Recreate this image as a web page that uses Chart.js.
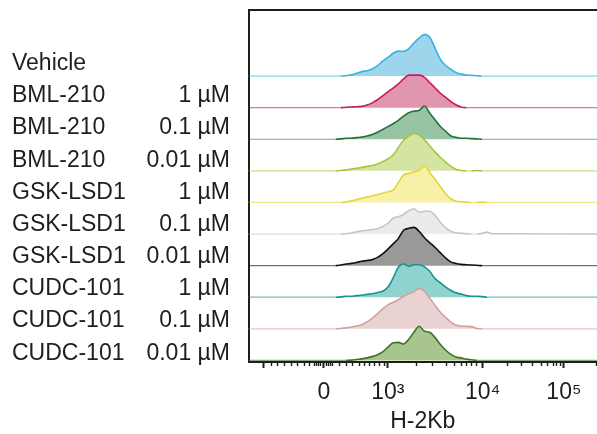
<!DOCTYPE html>
<html><head><meta charset="utf-8">
<script src="https://cdn.jsdelivr.net/npm/chart.js@4/dist/chart.umd.min.js"></script>
<style>html,body{margin:0;padding:0;background:#fff;overflow:hidden}canvas{display:block}</style>
</head><body>
<canvas id="c" width="597" height="434"></canvas>
<script>
// ---- data ----
const sampleNames = ['Vehicle','BML-210','BML-210','BML-210','GSK-LSD1','GSK-LSD1','GSK-LSD1','CUDC-101','CUDC-101','CUDC-101'];
const doses = ['','1 µM','0.1 µM','0.01 µM','1 µM','0.1 µM','0.01 µM','1 µM','0.1 µM','0.01 µM'];

// display channel (biexponential scale, 0-1000)
const xChannels = [0,250,265,280,295,310,325,340,355,370,385,400,415,430,445,460,475,490,505,520,535,550,565,580,595,610,625,640,655,670,685,700,1000];

// histogram heights (100 = one ridge spacing)
const vehicle   = [0,0,0,1,4,9,14,17,22,33,47,59,72,79,78,87,105,121,132,123,89,54,34,22,11,6,3,2,1,0,0,0,0];
const bml1      = [0,0,0,1,2,3,4,8,15,25,37,50,62,75,91,103,103,103,96,79,63,46,33,20,9,2,0,0,0,0,0,0,0];
const bml01     = [0,0,1,3,3,5,7,10,15,22,31,40,49,60,73,84,89,92,105,82,62,41,26,11,6,3,3,2,1,0,0,0,0];
const bml001    = [0,0,1,3,6,8,11,14,17,22,29,38,50,74,97,109,119,113,98,79,60,43,28,15,5,1,0,0,1,0,0,0,0];
const gsk1      = [0,0,0,1,5,9,13,17,21,25,29,34,39,63,87,92,97,102,116,95,73,51,29,12,4,2,1,0,0,1,0,0,0];
const gsk01     = [0,0,0,1,3,7,10,12,14,17,24,34,50,55,62,74,80,69,72,72,59,38,20,9,4,2,1,0,0,2,6,1,0];
const gsk001    = [0,0,2,5,7,10,14,16,19,26,37,52,69,86,112,118,121,108,88,73,58,41,25,12,7,4,3,2,1,0,0,0,0];
const cudc1     = [0,0,1,3,3,5,6,9,11,15,19,32,61,95,105,98,103,103,96,82,59,46,33,22,14,10,5,3,3,2,0,0,0];
const cudc01    = [0,0,1,3,6,9,13,22,33,48,63,76,84,92,103,111,117,128,119,97,75,53,37,22,12,9,8,7,1,0,0,0,0];
const cudc001   = [0,0,0,0,1,3,5,8,12,18,27,42,56,57,52,67,90,108,92,89,73,51,33,20,11,8,4,2,0,0,0,0,0];
const seriesValues = [vehicle,bml1,bml01,bml001,gsk1,gsk01,gsk001,cudc1,cudc01,cudc001];

// axis ticks (display channel) and their labels
const tickChannels = [43,65,83,103,123,141,161,175,190,195,201,207,216,224,230,236,241,262,281,299,319,333,348,362,376,391,400,481,529,568,592,611,626,640,654,672,744,784,816,841,859,874,885,896,905,999];
const tickLabels   = ['','','','','','','','','','','','','0','','','','','','','','','','','','','','10³','','','','','','','','','10⁴','','','','','','','','','10⁵',''];
const majorTicks   = [43,216,400,672,905];

// ---- styles ----
const lineColors = ['#33b4e2','#c71d59','#22703b','#a4c83a','#e4d63a','#c6c6c6','#111111','#16958f','#d4a0a0','#3b7323'];
const fillColors = ['#9dd6ec','#e196ae','#99c4a4','#d3e4a3','#f6f1a6','#ebebeb','#999999','#8fd2ce','#ead2d2','#a9c58f'];
const FONT = "'Liberation Sans', Arial, sans-serif";
const TXT = '#1e1e1e';
const ROW = 100, LIFT = 5, YMAX = 1114;
const n = sampleNames.length;

const datasets = seriesValues.map((vals, i) => {
  const base = (n - 1 - i) * ROW + LIFT;
  return {
    data: vals.map((v, k) => ({x: xChannels[k], y: base + v})),
    borderColor: lineColors[i],
    backgroundColor: fillColors[i],
    fill: {value: base},
    borderWidth: 1.6,
    pointRadius: 0,
    cubicInterpolationMode: 'monotone',
    order: n - 1 - i,
    segment: {
      borderColor: ctx => (ctx.p0.parsed.y === base && ctx.p1.parsed.y === base) ? lineColors[i] + '99' : undefined,
      borderWidth: ctx => (ctx.p0.parsed.y === base && ctx.p1.parsed.y === base) ? 1.2 : undefined
    }
  };
});

const labelTop = 944, labelStep = 101.8;
const labelTicks = s => { s.ticks = sampleNames.map((_, i) => ({value: labelTop - i * labelStep})); };
const noPad = s => { s.paddingTop = 0; s.paddingBottom = 0; s.paddingLeft = 0; s.paddingRight = 0; };

new Chart(document.getElementById('c'), {
  type: 'line',
  data: {datasets},
  options: {
    responsive: false,
    animation: false,
    events: [],
    layout: {padding: {left: 12, top: 10, right: 0, bottom: 0}},
    plugins: {legend: {display: false}, tooltip: {enabled: false}},
    scales: {
      x: {
        type: 'linear', position: 'bottom', min: 0, max: 1000,
        afterBuildTicks: s => { s.ticks = tickChannels.map(v => ({value: v})); },
        afterFit: s => { s.height = 72; noPad(s); },
        ticks: {
          autoSkip: false, maxRotation: 0, minRotation: 0, padding: 11, color: TXT,
          font: {family: FONT, size: 23},
          callback: (v, idx) => tickLabels[idx]
        },
        grid: {
          display: true, drawOnChartArea: false, drawTicks: true, tickLength: 6,
          tickColor: '#1e1e1e',
          tickWidth: ctx => majorTicks.includes(ctx.tick && ctx.tick.value) ? 2 : 1.4,
          tickBorderDash: ctx => majorTicks.includes(ctx.tick && ctx.tick.value) ? [] : [3, 20]
        },
        border: {display: true, color: '#1e1e1e', width: 2},
        title: {display: true, text: 'H-2Kb', color: TXT, font: {family: FONT, size: 23, lineHeight: 1.1}, padding: 0}
      },
      xTop: {
        type: 'linear', position: 'top', min: 0, max: 1000,
        afterFit: s => { s.height = 0; noPad(s); },
        ticks: {display: false},
        grid: {display: false, drawTicks: false},
        border: {display: true, color: '#1e1e1e', width: 2}
      },
      y: {type: 'linear', min: 0, max: YMAX, display: false},
      yDose: {
        type: 'linear', position: 'left', weight: 1, min: 0, max: YMAX,
        afterBuildTicks: labelTicks,
        afterFit: s => { s.width = 111.5; noPad(s); },
        ticks: {autoSkip: false, crossAlign: 'near', padding: 18.5, color: TXT, font: {family: FONT, size: 23},
                callback: (v, idx) => doses[idx]},
        grid: {display: true, drawOnChartArea: false, drawTicks: false},
        border: {display: true, color: '#1e1e1e', width: 2}
      },
      yName: {
        type: 'linear', position: 'left', weight: 2, min: 0, max: YMAX,
        afterBuildTicks: labelTicks,
        afterFit: s => { s.width = 125; noPad(s); },
        ticks: {autoSkip: false, crossAlign: 'far', padding: 0, color: TXT, font: {family: FONT, size: 23},
                callback: (v, idx) => sampleNames[idx]},
        grid: {display: false, drawTicks: false},
        border: {display: false}
      }
    }
  }
});
</script>
</body></html>
